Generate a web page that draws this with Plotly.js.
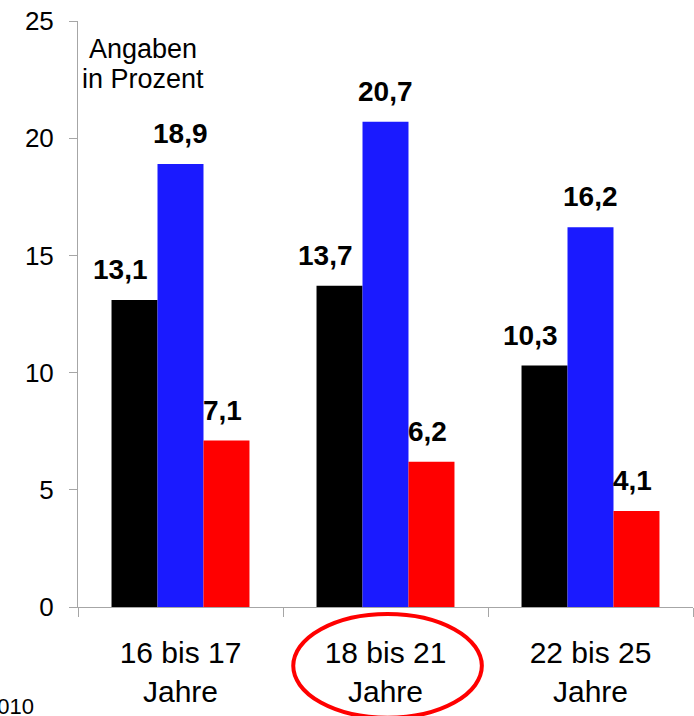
<!DOCTYPE html>
<html>
<head>
<meta charset="utf-8">
<script src="https://cdn.plot.ly/plotly-3.0.1.min.js"></script>
<style>html,body{margin:0;padding:0;background:#fff;}#chart{width:694px;height:716px;}</style>
</head>
<body>
<div id="chart"></div>
<script>
const categories = ["16 bis 17<br>Jahre", "18 bis 21<br>Jahre", "22 bis 25<br>Jahre"];
const seriesBlack = [13.1, 13.7, 10.3];
const seriesBlue = [18.9, 20.7, 16.2];
const seriesRed = [7.1, 6.2, 4.1];
const yTicks = [0, 5, 10, 15, 20, 25];

const FONT = "Liberation Sans, Arial, sans-serif";
const seriesList = [
  {vals: seriesBlack, color: "#000000", shift: -46, labelShift: -14},
  {vals: seriesBlue, color: "#1a1aff", shift: 0, labelShift: 0},
  {vals: seriesRed, color: "#ff0000", shift: 46, labelShift: -4}
];

const traces = seriesList.map(s => ({
  type: "bar",
  x: categories,
  y: s.vals,
  marker: {color: s.color, line: {width: 0}},
  hoverinfo: "none"
}));

const fmt = v => v.toFixed(1).replace(".", ",");
const annotations = [];
seriesList.forEach(s => {
  s.vals.forEach((v, i) => {
    annotations.push({
      x: categories[i], y: v, xref: "x", yref: "y",
      text: "<b>" + fmt(v) + "</b>", showarrow: false,
      xanchor: "center", yanchor: "bottom",
      xshift: s.shift + s.labelShift, yshift: 13,
      font: {family: FONT, size: 28, color: "#000"}
    });
  });
});
annotations.push({xref: "paper", yref: "paper", x: 0.1057, y: 0.952, text: "Angaben", showarrow: false,
  xanchor: "center", yanchor: "middle", font: {family: FONT, size: 27, color: "#000"}});
annotations.push({xref: "paper", yref: "paper", x: 0.1057, y: 0.901, text: "in Prozent", showarrow: false,
  xanchor: "center", yanchor: "middle", font: {family: FONT, size: 27, color: "#000"}});
annotations.push({xref: "paper", yref: "paper", x: -0.069, y: -0.169, text: "2010", showarrow: false,
  xanchor: "right", yanchor: "middle", font: {family: FONT, size: 22, color: "#000"}});

const layout = {
  width: 694, height: 716,
  margin: {l: 78, r: 1, t: 21, b: 109},
  paper_bgcolor: "#fff", plot_bgcolor: "#fff",
  showlegend: false,
  barmode: "group", bargap: 0.327, bargroupgap: 0,
  font: {family: FONT, color: "#000"},
  xaxis: {
    type: "category",
    showline: true, linecolor: "#a6a6a6", linewidth: 1,
    ticks: "outside", tickson: "boundaries", ticklen: 9, tickcolor: "#a6a6a6", tickwidth: 1,
    tickfont: {family: FONT, size: 30, color: "#000"},
    ticklabelstandoff: 19,
    showgrid: false, zeroline: false, fixedrange: true
  },
  yaxis: {
    range: [0, 25], tickvals: yTicks, ticktext: yTicks.map(String),
    showline: true, linecolor: "#a6a6a6", linewidth: 1,
    ticks: "outside", ticklen: 8, tickcolor: "#a6a6a6", tickwidth: 1,
    tickfont: {family: FONT, size: 26, color: "#000"},
    ticklabelstandoff: 10,
    showgrid: false, zeroline: false, fixedrange: true
  },
  annotations: annotations,
  shapes: [{
    type: "circle", xref: "x", yref: "paper",
    x0: 0.55, x1: 1.47, y0: -0.0119, y1: -0.189,
    line: {color: "#ff0000", width: 4}, fillcolor: "rgba(0,0,0,0)"
  }]
};

Plotly.newPlot("chart", traces, layout, {displayModeBar: false, staticPlot: true});
</script>
</body>
</html>
